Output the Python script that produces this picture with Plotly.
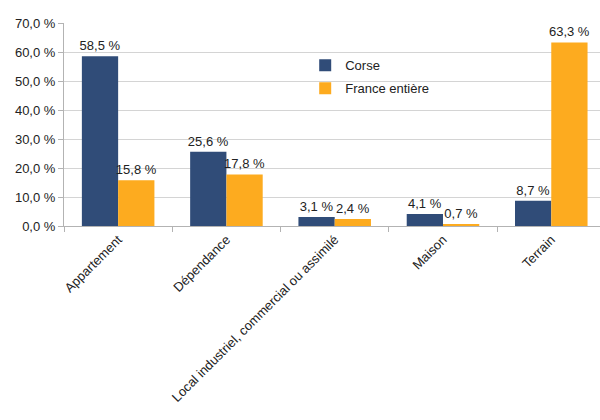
import plotly.graph_objects as go

categories = ["Appartement", "Dépendance", "Local industriel, commercial ou assimilé", "Maison", "Terrain"]
corse = [58.5, 25.6, 3.1, 4.1, 8.7]
france = [15.8, 17.8, 2.4, 0.7, 63.3]
y_ticks = [0, 10, 20, 30, 40, 50, 60, 70]


def fr_pct(v):
    return f"{v:.1f}".replace(".", ",") + " %"


font = dict(family="Liberation Sans, Arial, sans-serif", size=13, color="#222222")

fig = go.Figure()
fig.add_trace(go.Bar(
    name="Corse", x=categories, y=corse,
    marker=dict(color="#304c78", line=dict(width=0)),
    text=[fr_pct(v) for v in corse], textposition="outside",
    textfont=font, cliponaxis=False, constraintext="none", legendgroup="a",
))
fig.add_trace(go.Bar(
    name="France entière", x=categories, y=france,
    marker=dict(color="#fdab1f", line=dict(width=0)),
    text=[fr_pct(v) for v in france], textposition="outside",
    textfont=font, cliponaxis=False, constraintext="none", legendgroup="b",
))

fig.update_layout(
    width=600, height=420,
    margin=dict(l=64, r=0, t=23, b=194),
    paper_bgcolor="white", plot_bgcolor="white",
    font=font,
    barmode="group", bargap=0.33, bargroupgap=0,
    legend=dict(x=0.45, y=0.865, xanchor="left", yanchor="top",
                bgcolor="rgba(0,0,0,0)", font=font, tracegroupgap=3,
                itemwidth=30),
    showlegend=True,
)
fig.update_xaxes(
    type="category", range=[-0.5, 4.45], tickangle=-45, tickson="boundaries",
    ticks="outside", ticklen=5, tickcolor="#b3b3b3",
    showline=True, linecolor="#b3b3b3", linewidth=1,
    showgrid=False, tickfont=font,
)
fig.update_yaxes(
    range=[0, 70], tickvals=y_ticks, ticktext=[fr_pct(v) for v in y_ticks],
    ticks="outside", ticklen=5, tickcolor="#b3b3b3",
    showline=True, linecolor="#b3b3b3", linewidth=1,
    showgrid=True, gridcolor="#d4d4d4", gridwidth=1,
    zeroline=False, tickfont=font,
)

fig.write_html("out.html")
